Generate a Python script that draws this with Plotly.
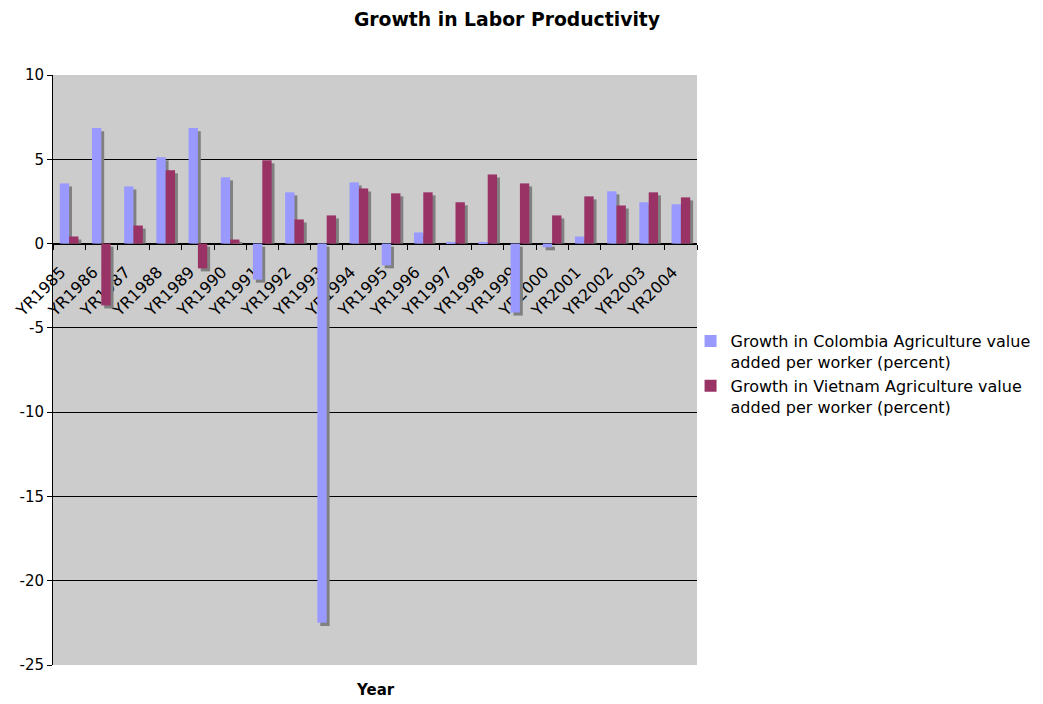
import plotly.graph_objects as go

years = ["YR1985", "YR1986", "YR1987", "YR1988", "YR1989", "YR1990", "YR1991", "YR1992",
         "YR1993", "YR1994", "YR1995", "YR1996", "YR1997", "YR1998", "YR1999", "YR2000",
         "YR2001", "YR2002", "YR2003", "YR2004"]
colombia = [3.57, 6.85, 3.39, 5.12, 6.85, 3.93, -2.14, 3.04, -22.5, 3.63,
            -1.29, 0.66, 0.06, 0.06, -4.09, -0.22, 0.42, 3.10, 2.45, 2.33]
vietnam = [0.42, -3.67, 1.07, 4.35, -1.47, 0.24, 4.94, 1.43, 1.67, 3.27,
           2.98, 3.04, 2.45, 4.10, 3.57, 1.67, 2.80, 2.26, 3.04, 2.74]
y_tickvals = [-25, -20, -15, -10, -5, 0, 5, 10]
y_ticktext = ["-25", "-20", "-15", "-10", "-5", "0", "5", "10"]

name_col = "Growth in Colombia Agriculture value<br>added per worker (percent)"
name_vn = "Growth in Vietnam Agriculture value<br>added per worker (percent)"

W = 0.29
SH_X = 0.09
SH_Y = 0.18


def shadow(vals):
    bases, heights = [], []
    for v in vals:
        if v >= 0:
            bases.append(0)
            heights.append(max(v - SH_Y, 0))
        else:
            bases.append(-SH_Y)
            heights.append(v)
    return bases, heights


fig = go.Figure()
b, h = shadow(colombia)
fig.add_trace(go.Bar(x=years, y=h, base=b, offset=-W + SH_X, width=W,
                     marker=dict(color="#808080", line=dict(width=0)), showlegend=False, hoverinfo="skip"))
fig.add_trace(go.Bar(x=years, y=colombia, offset=-W, width=W, name=name_col,
                     marker=dict(color="#9999FF", line=dict(width=0))))
b, h = shadow(vietnam)
fig.add_trace(go.Bar(x=years, y=h, base=b, offset=SH_X, width=W,
                     marker=dict(color="#808080", line=dict(width=0)), showlegend=False, hoverinfo="skip"))
fig.add_trace(go.Bar(x=years, y=vietnam, offset=0, width=W, name=name_vn,
                     marker=dict(color="#993366", line=dict(width=0))))

ymin, ymax = -25, 10
fig.update_layout(
    width=1043, height=704,
    barmode="overlay",
    paper_bgcolor="white", plot_bgcolor="#CCCCCC",
    margin=dict(l=53, r=346, t=75, b=39, autoexpand=False),
    font=dict(family="DejaVu Sans, Verdana, sans-serif", size=15, color="black"),
    title=dict(text="<b>Growth in Labor Productivity</b>", x=507 / 1043, xanchor="center",
               y=1 - 19 / 704, yanchor="middle", font=dict(size=18.8)),
    xaxis=dict(type="category", anchor="free", position=(0 - ymin) / (ymax - ymin),
               showline=True, linecolor="black", linewidth=1, layer="below traces",
               tickson="boundaries", ticks="outside", ticklen=5, tickcolor="black",
               tickangle=-45, showgrid=False, tickfont=dict(size=16),
               ticklabelstandoff=12, ticklabelshift=-8,
               range=[-0.5, len(years) - 0.5]),
    yaxis=dict(range=[ymin, ymax], tickvals=y_tickvals, ticktext=y_ticktext,
               showgrid=True, gridcolor="#000000", gridwidth=1,
               showline=True, linecolor="black", linewidth=1, ticks="outside", ticklen=5,
               tickcolor="black", zeroline=False, tickfont=dict(size=15)),
    legend=dict(x=0.99, xanchor="left", y=0.493, yanchor="middle", font=dict(size=16),
                bgcolor="rgba(0,0,0,0)", valign="top"),
    annotations=[dict(text="<b>Year</b>", x=0.5, xref="paper", y=-0.042, yref="paper",
                      showarrow=False, yanchor="middle", font=dict(size=15))],
)

fig.write_html("out.html")
